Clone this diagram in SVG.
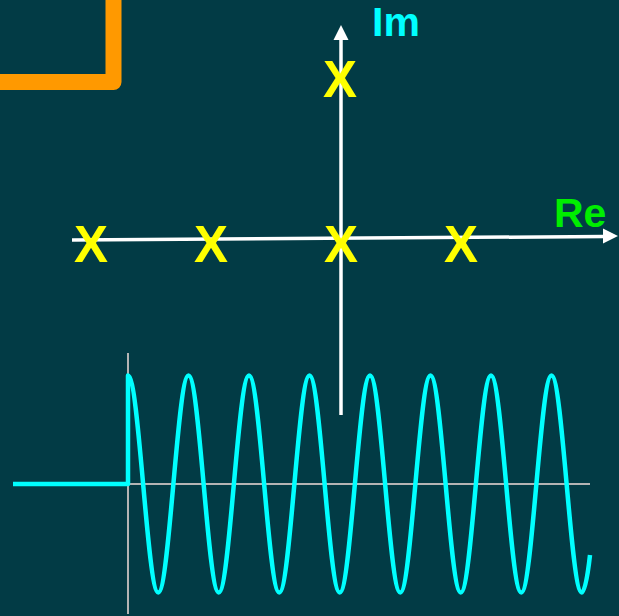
<svg xmlns="http://www.w3.org/2000/svg" width="619" height="616" viewBox="0 0 619 616">
<style>
.pole{font-family:"Liberation Sans",Arial,sans-serif;font-weight:bold;font-size:51px;fill:#ffff00;text-anchor:middle}
.lbl{font-family:"Liberation Sans",Arial,sans-serif;font-weight:bold;font-size:41px}
.axis{stroke:#ffffff;stroke-width:3.5;fill:none}
.grey{stroke:#b4b4b4;stroke-width:2;fill:none}
</style>
<rect width="619" height="616" fill="#023b45"/>
<path d="M0,82 H113.5 V0" fill="none" stroke="#ff9900" stroke-width="16" stroke-linejoin="round"/>
<g id="connectors">
<line class="axis" x1="341" y1="415" x2="341" y2="38"/>
<polygon points="341,25 333.5,40 348.5,40" fill="#ffffff"/>
<line class="axis" x1="72" y1="240" x2="605" y2="236.5"/>
<polygon points="618,236 603,228.5 603,243.5" fill="#ffffff"/>
</g>
<g id="label-im"><text class="lbl" x="372" y="36" font-size="40" fill="#00ffff">Im</text></g>
<g id="label-re"><text class="lbl" x="554" y="227" fill="#00ee00">Re</text></g>
<g id="pole-top"><text class="pole" x="340" y="97">X</text></g>
<g id="pole-1"><text class="pole" x="91" y="262">X</text></g>
<g id="pole-2"><text class="pole" x="211" y="262">X</text></g>
<g id="pole-3"><text class="pole" x="341" y="262">X</text></g>
<g id="pole-4"><text class="pole" x="461" y="262">X</text></g>
<g id="waveform">
<line class="grey" x1="128" y1="353" x2="128" y2="614"/>
<line class="grey" x1="128" y1="484" x2="590" y2="484"/>
<path fill="none" stroke="#00ffff" stroke-width="4.5" stroke-linejoin="round" d="M13,484 H128 V375.5
c5.474,0 10.192,52.92 15.125,108.5 c4.933,55.58 9.651,108.5 15.125,108.5 c5.474,0 10.192,-52.92 15.125,-108.5 c4.933,-55.58 9.651,-108.5 15.125,-108.5
c5.474,0 10.192,52.92 15.125,108.5 c4.933,55.58 9.651,108.5 15.125,108.5 c5.474,0 10.192,-52.92 15.125,-108.5 c4.933,-55.58 9.651,-108.5 15.125,-108.5
c5.474,0 10.192,52.92 15.125,108.5 c4.933,55.58 9.651,108.5 15.125,108.5 c5.474,0 10.192,-52.92 15.125,-108.5 c4.933,-55.58 9.651,-108.5 15.125,-108.5
c5.474,0 10.192,52.92 15.125,108.5 c4.933,55.58 9.651,108.5 15.125,108.5 c5.474,0 10.192,-52.92 15.125,-108.5 c4.933,-55.58 9.651,-108.5 15.125,-108.5
c5.474,0 10.192,52.92 15.125,108.5 c4.933,55.58 9.651,108.5 15.125,108.5 c5.474,0 10.192,-52.92 15.125,-108.5 c4.933,-55.58 9.651,-108.5 15.125,-108.5
c5.474,0 10.192,52.92 15.125,108.5 c4.933,55.58 9.651,108.5 15.125,108.5 c5.474,0 10.192,-52.92 15.125,-108.5 c4.933,-55.58 9.651,-108.5 15.125,-108.5
c5.474,0 10.192,52.92 15.125,108.5 c4.933,55.58 9.651,108.5 15.125,108.5 c5.474,0 10.192,-52.92 15.125,-108.5 c4.933,-55.58 9.651,-108.5 15.125,-108.5
c5.474,0 10.192,52.92 15.125,108.5 c4.933,55.58 9.651,108.5 15.125,108.5 c3,0 6,-17 8.25,-37.5"/>
</g>
</svg>
